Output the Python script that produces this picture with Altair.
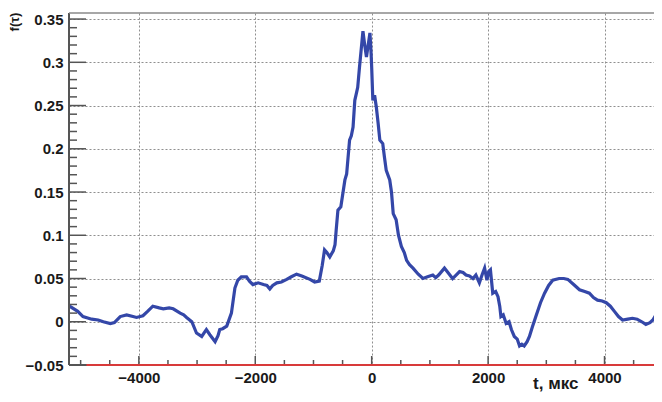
import altair as alt
import pandas as pd

# ---- data ----
t_us = [-5190, -5050, -4960, -4810, -4700, -4610, -4490, -4420, -4320, -4210,
        -4100, -4040, -3930, -3850, -3760, -3650, -3580, -3480, -3410, -3290,
        -3230, -3180, -3090, -3010, -2920, -2870, -2840, -2780, -2690, -2640,
        -2610, -2560, -2490, -2410, -2350, -2300, -2240, -2150, -2100, -2040,
        -1950, -1860, -1800, -1750, -1700, -1630, -1550, -1460, -1380, -1290,
        -1200, -1060, -980, -900, -850, -810, -770, -720, -660, -630,
        -610, -580, -530, -460, -430, -380, -350, -320, -290, -260,
        -240, -210, -180, -150, -120, -90, -60, -30, -10, 0,
        20, 50, 80, 110, 140, 190, 220, 250, 310, 340,
        370, 420, 460, 510, 560, 600, 650, 710, 800, 880,
        960, 1050, 1100, 1150, 1250, 1320, 1390, 1450, 1510, 1570,
        1620, 1680, 1740, 1790, 1850, 1900, 1940, 1980, 2010, 2040,
        2080, 2130, 2170, 2200, 2220, 2260, 2310, 2360, 2400, 2450,
        2500, 2540, 2580, 2620, 2670, 2710, 2760, 2820, 2900, 2970,
        3040, 3110, 3220, 3300, 3370, 3470, 3570, 3660, 3740, 3810,
        3880, 3960, 4030, 4100, 4170, 4240, 4310, 4400, 4480, 4560,
        4640, 4710, 4780, 4830, 4900, 4940]
f_vals = [0.018, 0.012, 0.006, 0.003, 0.002, 0.000, -0.002, -0.001, 0.006, 0.008,
          0.006, 0.005, 0.007, 0.012, 0.018, 0.016, 0.015, 0.016, 0.015, 0.010,
          0.008, 0.005, 0.000, -0.013, -0.017, -0.012, -0.009, -0.015, -0.023, -0.016,
          -0.009, -0.008, -0.005, 0.010, 0.039, 0.048, 0.052, 0.052, 0.047, 0.043,
          0.045, 0.043, 0.042, 0.038, 0.042, 0.045, 0.046, 0.049, 0.052, 0.055,
          0.053, 0.049, 0.046, 0.047, 0.065, 0.083, 0.080, 0.075, 0.082, 0.089,
          0.106, 0.129, 0.133, 0.164, 0.171, 0.210, 0.215, 0.225, 0.256, 0.265,
          0.271, 0.294, 0.315, 0.336, 0.320, 0.306, 0.320, 0.334, 0.310, 0.294,
          0.256, 0.262, 0.248, 0.230, 0.210, 0.206, 0.190, 0.175, 0.164, 0.150,
          0.125, 0.118, 0.100, 0.087, 0.080, 0.071, 0.066, 0.062, 0.055, 0.050,
          0.052, 0.054, 0.051, 0.054, 0.062, 0.056, 0.050, 0.054, 0.058, 0.057,
          0.054, 0.053, 0.050, 0.054, 0.045, 0.055, 0.062, 0.048, 0.058, 0.060,
          0.033, 0.035, 0.029, 0.018, 0.006, 0.008, -0.002, 0.000, -0.009, -0.017,
          -0.020, -0.028, -0.026, -0.028, -0.023, -0.017, -0.006, 0.006, 0.022, 0.033,
          0.042, 0.048, 0.050, 0.050, 0.049, 0.043, 0.037, 0.035, 0.033, 0.028,
          0.025, 0.024, 0.022, 0.018, 0.012, 0.006, 0.002, 0.003, 0.004, 0.003,
          0.000, -0.003, -0.001, 0.002, 0.010, 0.014]

x_major = [-4000, -2000, 0, 2000, 4000]
x_minor = [-5000, -4500, -3500, -3000, -2500, -1500, -1000, -500,
           500, 1000, 1500, 2500, 3000, 3500, 4500]
y_major = [-0.05, 0.0, 0.05, 0.1, 0.15, 0.2, 0.25, 0.3, 0.35]
y_minor = [-0.04, -0.03, -0.02, -0.01, 0.01, 0.02, 0.03, 0.04, 0.06, 0.07, 0.08, 0.09,
           0.11, 0.12, 0.13, 0.14, 0.16, 0.17, 0.18, 0.19, 0.21, 0.22, 0.23, 0.24,
           0.26, 0.27, 0.28, 0.29, 0.31, 0.32, 0.33, 0.34]

X_DOMAIN = [-5200, 4850]
Y_DOMAIN = [-0.05, 0.357]
W, H = 585, 352
FONT = "Liberation Sans"

df = pd.DataFrame({"t": t_us, "f": f_vals})

xs = alt.Scale(domain=X_DOMAIN, nice=False, zero=False)
ys = alt.Scale(domain=Y_DOMAIN, nice=False, zero=False)

x_axis = alt.Axis(values=x_major, grid=True, gridDash=[2, 2], gridColor="#8f8f8f",
                  gridWidth=1, ticks=False, domain=False, labelFont=FONT,
                  labelFontWeight="bold", labelFontSize=15, labelColor="#1a1a1a",
                  labelPadding=5, format="d", title="t, мкс", titleFont=FONT,
                  titleFontWeight="bold", titleFontSize=17, titleColor="#1a1a1a",
                  titleX=509, titleY=23, titleAlign="right",
                  titleBaseline="alphabetic")
y_axis = alt.Axis(values=y_major, grid=True, gridDash=[2, 2], gridColor="#8f8f8f",
                  gridWidth=1, ticks=False, domain=False, labelFont=FONT,
                  labelFontWeight="bold", labelFontSize=15, labelColor="#1a1a1a",
                  labelPadding=6, format=".2~f", title=None)

curve = alt.Chart(df).mark_line(color="#3447a8", strokeWidth=3.2, clip=True).encode(
    x=alt.X("t:Q", scale=xs, axis=x_axis, title="t, мкс"),
    y=alt.Y("f:Q", scale=ys, axis=y_axis, title=None),
)

def yticks(vals, length):
    return alt.Chart(pd.DataFrame({"f": vals})).mark_rule(
        color="#555555", strokeWidth=1.5).encode(
        y=alt.Y("f:Q", scale=ys, axis=y_axis, title=None),
        x=alt.value(0), x2=alt.value(length))

def xticks(vals, length):
    return alt.Chart(pd.DataFrame({"t": vals})).mark_rule(
        color="#555555", strokeWidth=1.5).encode(
        x=alt.X("t:Q", scale=xs, axis=x_axis, title="t, мкс"),
        y=alt.value(H), y2=alt.value(H - length))

left_line = alt.Chart(pd.DataFrame({"a": [0]})).mark_rule(
    color="#555555", strokeWidth=2).encode(
    x=alt.value(0), y=alt.value(0), y2=alt.value(H))
top_line = alt.Chart(pd.DataFrame({"a": [0]})).mark_rule(
    color="#8a8a8a", strokeWidth=1.5).encode(
    y=alt.value(0), x=alt.value(0), x2=alt.value(W))
bottom_gray = alt.Chart(pd.DataFrame({"a": [0]})).mark_rule(
    color="#555555", strokeWidth=2).encode(
    y=alt.value(H), x=alt.value(0), x2=alt.value(W))
bottom_red = alt.Chart(pd.DataFrame({"t": [-4900], "t2": [4850]})).mark_rule(
    color="#d83a3a", strokeWidth=2).encode(
    x=alt.X("t:Q", scale=xs, axis=x_axis, title="t, мкс"), x2="t2:Q",
    y=alt.value(H))

y_title = alt.Chart(pd.DataFrame({"s": ["f(τ)"]})).mark_text(
    angle=270, font=FONT, fontWeight="bold", fontSize=13, color="#1a1a1a",
    align="center", baseline="middle").encode(
    text="s:N", x=alt.value(-54), y=alt.value(9))

chart = alt.layer(
    curve, yticks(y_minor, 8), yticks(y_major, 17), xticks(x_minor, 5),
    xticks(x_major, 9), left_line, top_line, bottom_gray, bottom_red, y_title
).properties(
    width=W, height=H,
    autosize=alt.AutoSizeParams(type="none"),
    padding={"left": 61, "top": 5, "right": 0, "bottom": 29},
    background="white",
).configure_view(stroke=None)

chart.save("out.html", embed_options={"renderer": "svg", "actions": False})
